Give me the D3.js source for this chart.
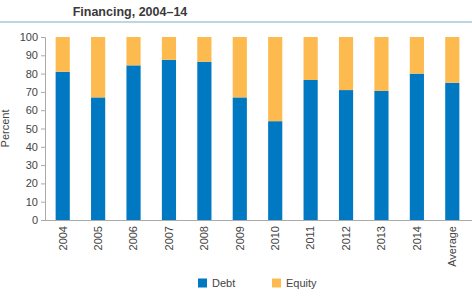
<!DOCTYPE html>
<html>
<head>
<meta charset="utf-8">
<script src="https://cdn.jsdelivr.net/npm/d3@7"></script>
<style>
  body { margin: 0; background: #fff; }
  svg { display: block; font-family: "Liberation Sans", Arial, sans-serif; }
</style>
</head>
<body>
<svg id="chart"></svg>
<script>
// chart data
var years = ["2004", "2005", "2006", "2007", "2008", "2009", "2010", "2011", "2012", "2013", "2014", "Average"];
var debt = [81, 67, 84.5, 87.5, 86.5, 67, 54, 76.5, 71, 70.5, 80, 75];
var equity = debt.map(function (d) { return 100 - d; });
var yTicks = [0, 10, 20, 30, 40, 50, 60, 70, 80, 90, 100];
var seriesNames = ["Debt", "Equity"];

var w = 472, h = 298;
var colors = { Debt: "#0079c2", Equity: "#fdbb4f" };
var margin = { top: 37, left: 45, right: 2, bottom: 78 };

var svg = d3.select("#chart").attr("width", w).attr("height", h);

// title (second line only, the first is cut off in the original)
svg.append("text")
    .attr("x", 130).attr("y", 16)
    .attr("text-anchor", "middle")
    .style("font-size", "12.5px").style("font-weight", "bold")
    .style("fill", "#3a3a3a")
    .text("Financing, 2004\u201314");

svg.append("line")
    .attr("x1", 0).attr("x2", w).attr("y1", 22).attr("y2", 22)
    .style("stroke", "#a8c8d8").style("stroke-width", 1.5);

var x = d3.scaleBand()
    .domain(years)
    .range([margin.left, w - margin.right])
    .paddingInner(0.6)
    .paddingOuter(0.3);

var y = d3.scaleLinear()
    .domain([0, 100])
    .range([h - margin.bottom, margin.top]);

var rows = years.map(function (yr, i) { return { year: yr, Debt: debt[i], Equity: equity[i] }; });
var stack = d3.stack().keys(seriesNames)(rows);

var g = svg.append("g");
g.selectAll("g.series").data(stack).enter()
    .append("g")
    .attr("class", "series")
    .style("fill", function (d) { return colors[d.key]; })
    .selectAll("rect")
    .data(function (d) { return d; })
    .enter().append("rect")
    .attr("x", function (d) { return x(d.data.year); })
    .attr("width", x.bandwidth())
    .attr("y", function (d) { return y(d[1]); })
    .attr("height", function (d) { return y(d[0]) - y(d[1]); });

// y axis
var yAxis = svg.append("g")
    .attr("transform", "translate(" + margin.left + ",0)")
    .call(d3.axisLeft(y).tickValues(yTicks).tickSize(4).tickPadding(3));
yAxis.select(".domain").style("stroke", "#aaa");
yAxis.selectAll(".tick line").style("stroke", "#aaa");
yAxis.selectAll("text").style("font-size", "11px").style("fill", "#444");

// x axis
var xAxis = svg.append("g")
    .attr("transform", "translate(0," + y(0) + ")")
    .call(d3.axisBottom(x).tickSize(0).tickPadding(6));
xAxis.select(".domain").style("stroke", "#aaa").attr("d", "M" + margin.left + ",0.5H" + w);
xAxis.selectAll("text")
    .style("font-size", "11px").style("fill", "#444")
    .attr("transform", "rotate(-90)")
    .attr("text-anchor", "end")
    .attr("x", -6).attr("y", 0).attr("dy", "0.35em");

// y label
svg.append("text")
    .attr("transform", "translate(9," + ((y(0) + y(100)) / 2) + ") rotate(-90)")
    .attr("text-anchor", "middle")
    .style("font-size", "11px").style("fill", "#444")
    .text("Percent");

// legend
var legend = svg.append("g").attr("transform", "translate(198,283)");
var li = legend.selectAll("g").data(seriesNames).enter().append("g")
    .attr("transform", function (d, i) { return "translate(" + (i * 74) + ",0)"; });
li.append("rect").attr("x", 0).attr("y", -4.5).attr("width", 9).attr("height", 9)
    .style("fill", function (d) { return colors[d]; });
li.append("text").attr("x", 14).attr("dy", "0.35em")
    .style("font-size", "11px").style("fill", "#444")
    .text(function (d) { return d; });
</script>
</body>
</html>
